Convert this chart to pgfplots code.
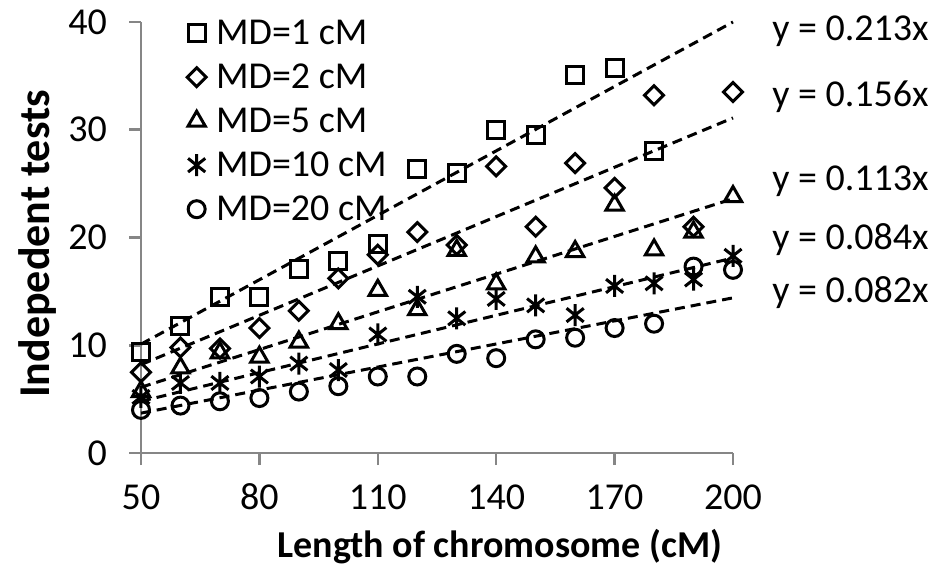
\documentclass[border=0pt]{standalone}
\usepackage{fontspec}
\setmainfont{Carlito}
\usepackage{pgfplots}
\pgfplotsset{compat=1.18}
\definecolor{axisgray}{HTML}{868686}
\pgfdeclareplotmark{xstar}{%
  \pgfpathmoveto{\pgfqpoint{0pt}{\pgfplotmarksize}}%
  \pgfpathlineto{\pgfqpoint{0pt}{-\pgfplotmarksize}}%
  \pgfpathmoveto{\pgfqpoint{-.78\pgfplotmarksize}{.62\pgfplotmarksize}}%
  \pgfpathlineto{\pgfqpoint{.78\pgfplotmarksize}{-.62\pgfplotmarksize}}%
  \pgfpathmoveto{\pgfqpoint{-.78\pgfplotmarksize}{-.62\pgfplotmarksize}}%
  \pgfpathlineto{\pgfqpoint{.78\pgfplotmarksize}{.62\pgfplotmarksize}}%
  \pgfusepathqstroke}
\begin{document}
\begin{tikzpicture}
\begin{axis}[
  scale only axis, width=592pt, height=431pt,
  xmin=50, xmax=200, ymin=0, ymax=40,
  axis x line=bottom, axis y line=left,
  axis line style={-, draw=axisgray, line width=2.5pt},
  xtick={50,80,110,140,170,200}, ytick={0,10,20,30,40},
  tick style={draw=axisgray, line width=2.5pt},
  major tick length=12pt, tick align=outside,
  ticklabel style={font=\fontsize{38}{44}\selectfont, text=black, inner sep=0pt},
  xticklabel style={anchor=base},
  xticklabel shift=44pt, yticklabel shift=22pt,
  /pgf/number format/assume math mode=true,
  xlabel={Length of chromosome (cM)},
  ylabel={Indepedent tests},
  every axis x label/.style={at={(axis description cs:0.606,-0.218)}, anchor=center,
    font=\fontsize{38}{44}\selectfont\bfseries},
  every axis y label/.style={at={(axis description cs:-0.174,0.485)}, anchor=center, rotate=90,
    font=\fontsize{44}{50}\selectfont\bfseries},
  clip=false,
  legend style={at={(rel axis cs:0,1)}, anchor=north west, xshift=46pt, yshift=11pt,
    draw=none, fill=none, inner sep=0pt, row sep=0pt,
    font=\fontsize{38}{44}\selectfont,
    nodes={inner sep=0pt, minimum height=44pt},
    /tikz/every odd column/.append style={column sep=10pt}},
  legend cell align=left,
  every axis plot/.append style={black},
]
% trend lines
\addplot[line width=3pt, dash pattern=on 10pt off 6pt, forget plot] coordinates {(50,10.1) (200,40)};
\addplot[line width=3pt, dash pattern=on 10pt off 6pt, forget plot] coordinates {(50,8.2) (200,31.1)};
\addplot[line width=3pt, dash pattern=on 10pt off 6pt, forget plot] coordinates {(50,6.1) (200,23.6)};
\addplot[line width=3pt, dash pattern=on 10pt off 6pt, forget plot] coordinates {(50,4.8) (200,18.1)};
\addplot[line width=3pt, dash pattern=on 10pt off 6pt, forget plot] coordinates {(50,3.7) (200,14.4)};
% data
\addplot[only marks, mark=square, mark size=8.5pt, mark options={solid, line width=3pt}] coordinates {
(50,9.4) (60,11.8) (70,14.5) (80,14.5) (90,17.1) (100,17.8) (110,19.4) (120,26.4)
(130,26.0) (140,30.0) (150,29.5) (160,35.1) (170,35.7) (180,28.0)};
\addlegendentry{MD=1 cM}
\addplot[only marks, mark=square, mark size=6.7pt, mark options={solid, rotate=45, line width=3pt}] coordinates {
(50,7.5) (60,9.8) (70,9.7) (80,11.6) (90,13.2) (100,16.2) (110,18.4) (120,20.5)
(130,19.3) (140,26.6) (150,21.0) (160,26.9) (170,24.6) (180,33.2) (190,21.0) (200,33.5)};
\addlegendentry{MD=2 cM}
\addplot[only marks, mark=triangle, mark size=10pt, mark options={solid, line width=3pt}] coordinates {
(50,5.7) (60,7.9) (70,9.3) (80,8.9) (90,10.3) (100,12.0) (110,15.1) (120,13.3)
(130,18.8) (140,15.7) (150,18.2) (160,18.7) (170,23.0) (180,18.85) (190,20.5) (200,23.8)};
\addlegendentry{MD=5 cM}
\addplot[only marks, mark=xstar, mark size=11pt, mark options={solid, line width=3pt}] coordinates {
(50,5.2) (60,6.5) (70,6.5) (80,7.1) (90,8.3) (100,7.7) (110,11.0) (120,14.5)
(130,12.5) (140,14.3) (150,13.7) (160,12.8) (170,15.5) (180,15.75) (190,16.1) (200,18.3)};
\addlegendentry{MD=10 cM}
\addplot[only marks, mark=o, mark size=8.5pt, mark options={solid, line width=3pt}] coordinates {
(50,4.0) (60,4.4) (70,4.8) (80,5.1) (90,5.7) (100,6.2) (110,7.1) (120,7.1)
(130,9.2) (140,8.8) (150,10.55) (160,10.7) (170,11.6) (180,12.0) (190,17.3) (200,17.0)};
\addlegendentry{MD=20 cM}
% equations
\node[anchor=west, inner sep=0pt, font=\fontsize{38}{44}\selectfont] at (axis cs:209.9,39.1) {y = 0.213x};
\node[anchor=west, inner sep=0pt, font=\fontsize{38}{44}\selectfont] at (axis cs:209.9,33.1) {y = 0.156x};
\node[anchor=west, inner sep=0pt, font=\fontsize{38}{44}\selectfont] at (axis cs:209.9,25.2) {y = 0.113x};
\node[anchor=west, inner sep=0pt, font=\fontsize{38}{44}\selectfont] at (axis cs:209.9,19.8) {y = 0.084x};
\node[anchor=west, inner sep=0pt, font=\fontsize{38}{44}\selectfont] at (axis cs:209.9,14.9) {y = 0.082x};
\coordinate (O) at (rel axis cs:0,0);
\end{axis}
\pgfresetboundingbox
\path[use as bounding box] (O) ++(-141pt,-120pt) rectangle ++(941pt,573pt);
\end{tikzpicture}
\end{document}
